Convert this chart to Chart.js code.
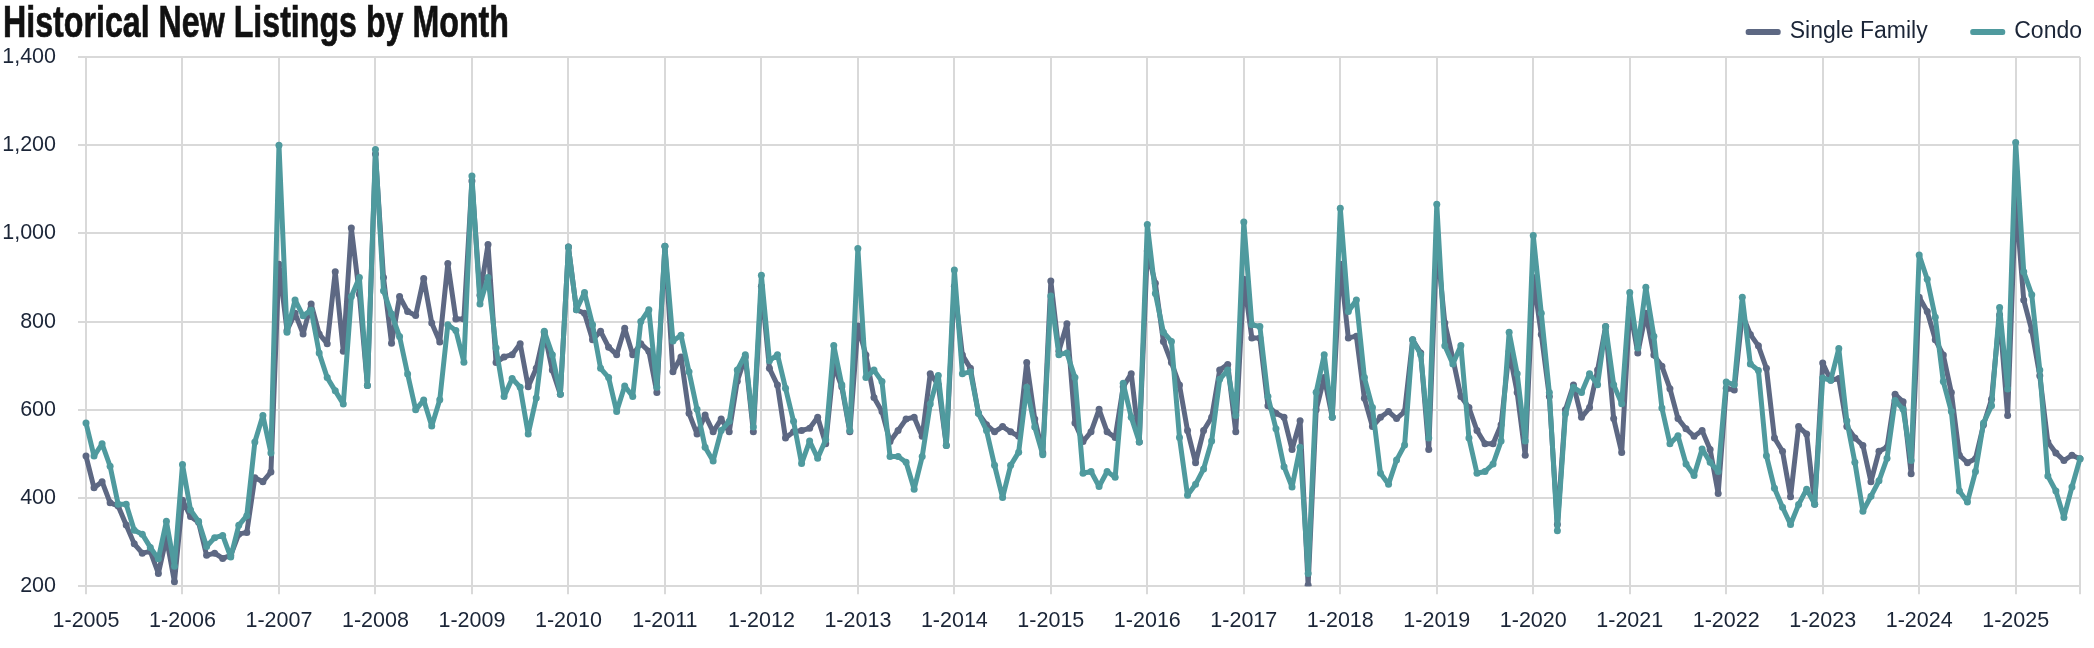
<!DOCTYPE html>
<html>
<head>
<meta charset="utf-8">
<script src="https://cdn.jsdelivr.net/npm/chart.js@4.4.1/dist/chart.umd.min.js"></script>
<style>
  html, body { margin: 0; padding: 0; background: #fff; }
  #wrap { position: relative; width: 2094px; height: 648px; }
  #title {
    position: absolute; left: 3px; top: -1px;
    font: bold 45px "Liberation Sans", Arial, sans-serif;
    line-height: 45px; color: #111; white-space: nowrap;
    -webkit-text-stroke: 0.7px #111;
    transform: scaleX(0.715); transform-origin: 0 0;
  }
  canvas { position: absolute; left: 0; top: 0; }
</style>
</head>
<body>
<div id="wrap">
  <canvas id="chart" width="2094" height="648"></canvas>
  <div id="title">Historical New Listings by Month</div>
</div>
<script>
// monthly new listings, Jan 2005 .. Sep 2025 (one row per year)
const startYear = 2005;

const singleFamily = [
  495, 423, 437, 389, 382, 339, 296, 275, 279, 229, 310, 210,   // 2005
  395, 358, 345, 270, 275, 263, 270, 318, 322, 446, 437, 459,   // 2006
  930, 780, 819, 772, 840, 772, 750, 913, 733, 1012, 862, 655,  // 2007
  1180, 900, 751, 857, 823, 814, 898, 797, 754, 932, 806, 806,  // 2008
  1119, 860, 975, 707, 720, 725, 750, 652, 694, 776, 690, 635,  // 2009
  969, 827, 819, 759, 778, 742, 725, 785, 725, 750, 733, 639,   // 2010
  971, 686, 720, 592, 545, 588, 550, 579, 550, 665, 720, 550,   // 2011
  880, 694, 656, 536, 550, 553, 558, 583, 523, 702, 652, 550,   // 2012
  790, 724, 628, 596, 528, 553, 579, 583, 540, 682, 657, 519,   // 2013
  880, 724, 694, 592, 566, 550, 562, 550, 540, 707, 579, 502,   // 2014
  892, 733, 795, 570, 528, 550, 601, 550, 537, 652, 682, 527,   // 2015
  960, 887, 755, 707, 656, 553, 480, 553, 583, 690, 703, 550,   // 2016
  896, 763, 763, 609, 592, 583, 510, 575, 202, 600, 673, 583,   // 2017
  930, 763, 767, 626, 562, 583, 596, 580, 596, 759, 729, 510,   // 2018
  980, 797, 716, 630, 605, 553, 523, 523, 566, 733, 639, 497,   // 2019
  900, 771, 630, 340, 600, 656, 583, 605, 690, 789, 580, 503,   // 2020
  830, 729, 819, 724, 699, 648, 580, 557, 540, 553, 510, 410,   // 2021
  649, 645, 816, 771, 745, 694, 536, 506, 403, 562, 545, 386,   // 2022
  706, 667, 671, 562, 536, 519, 437, 506, 515, 635, 618, 455,   // 2023
  855, 823, 759, 724, 639, 497, 480, 489, 566, 624, 815, 587,   // 2024
  1080, 849, 780, 677, 527, 502, 485, 497, 489                  // 2025
];

const condo = [
  570, 495, 523, 472, 386, 386, 327, 318, 288, 262, 347, 245,   // 2005
  476, 373, 347, 290, 310, 315, 266, 338, 360, 527, 587, 502,   // 2006
  1200, 776, 849, 813, 826, 729, 673, 643, 613, 857, 900, 655,  // 2007
  1190, 870, 817, 766, 681, 600, 622, 563, 623, 793, 780, 708,  // 2008
  1130, 840, 900, 740, 630, 671, 651, 545, 627, 778, 725, 635,  // 2009
  969, 827, 866, 793, 694, 673, 596, 654, 630, 800, 827, 651,   // 2010
  971, 756, 769, 686, 601, 515, 484, 553, 574, 690, 725, 561,   // 2011
  905, 711, 725, 649, 574, 478, 529, 490, 532, 746, 657, 553,   // 2012
  966, 673, 690, 664, 494, 494, 481, 420, 494, 613, 678, 519,   // 2013
  917, 682, 686, 592, 553, 474, 401, 474, 504, 651, 561, 498,   // 2014
  858, 725, 729, 673, 456, 460, 426, 460, 447, 660, 583, 527,   // 2015
  1020, 864, 776, 755, 537, 406, 431, 466, 529, 669, 690, 587,  // 2016
  1026, 793, 789, 630, 557, 471, 425, 515, 229, 640, 725, 583,  // 2017
  1057, 823, 849, 673, 605, 456, 431, 486, 520, 759, 725, 536,  // 2018
  1066, 745, 704, 746, 536, 456, 460, 477, 529, 776, 682, 529,  // 2019
  995, 819, 639, 326, 591, 651, 639, 682, 657, 789, 657, 614,   // 2020
  866, 740, 878, 767, 604, 523, 541, 477, 451, 511, 481, 460,   // 2021
  663, 657, 855, 704, 689, 496, 422, 379, 340, 385, 420, 386,   // 2022
  672, 667, 739, 575, 481, 370, 404, 439, 490, 621, 601, 485,   // 2023
  951, 896, 810, 664, 596, 416, 391, 460, 570, 609, 832, 647,   // 2024
  1206, 913, 861, 690, 450, 416, 356, 425, 489                  // 2025
];

const yTicks = [200, 400, 600, 800, 1000, 1200, 1400];

// "M-YYYY" category labels, one per month
const months = singleFamily.map((v, i) => `${(i % 12) + 1}-${startYear + Math.floor(i / 12)}`);

const gridColor = "#d9d9d9";
const textColor = "#1b2537";
const tickFont = { family: "'Liberation Sans', Arial, sans-serif", size: 21.5 };

// put the legend on the title row, flush with the plot's right edge
const legendShift = {
  id: "legendShift",
  afterLayout(chart) {
    const lg = chart.legend;
    lg.left += 47;
    lg.right += 47;
    lg.top -= 38.5; // bottom stays, so the clip box still holds the labels
  }
};

new Chart(document.getElementById("chart"), {
  type: "line",
  data: {
    labels: months,
    datasets: [
      {
        label: "Single Family",
        data: singleFamily,
        borderColor: "#5d6883",
        backgroundColor: "#5d6883",
        borderWidth: 5,
        pointRadius: 3.5,
        pointBorderWidth: 0,
        order: 1
      },
      {
        label: "Condo",
        data: condo,
        borderColor: "#4f9a9e",
        backgroundColor: "#4f9a9e",
        borderWidth: 5,
        pointRadius: 3.5,
        pointBorderWidth: 0,
        order: 0
      }
    ]
  },
  options: {
    responsive: false,
    animation: false,
    layout: { padding: { top: 14, left: 0, right: 14, bottom: 0 } },
    elements: { line: { tension: 0, borderJoinStyle: "round" } },
    plugins: {
      title: { display: false },
      tooltip: { enabled: false },
      legend: {
        position: "top",
        align: "end",
        maxHeight: 43,
        labels: {
          boxWidth: 30,
          boxHeight: 1,
          padding: 45,
          color: textColor,
          font: { family: "'Liberation Sans', Arial, sans-serif", size: 23 },
          sort: (a, b) => a.datasetIndex - b.datasetIndex
        }
      }
    },
    scales: {
      x: {
        grid: { color: gridColor, lineWidth: 2, tickLength: 8 },
        border: { display: false },
        ticks: {
          autoSkip: false,
          maxRotation: 0,
          padding: 14,
          color: textColor,
          font: tickFont,
          callback: function (value, index) {
            const label = months[index];
            if (label.startsWith("1-")) return label;
            if (index === months.length - 1) return "";
            return null;
          }
        }
      },
      y: {
        min: yTicks[0],
        max: yTicks[yTicks.length - 1],
        afterBuildTicks: (axis) => { axis.ticks = yTicks.map((v) => ({ value: v })); },
        afterFit: (axis) => { axis.width = 86; },
        grid: { color: gridColor, lineWidth: 2, tickLength: 8 },
        border: { display: false },
        ticks: {
          padding: 22,
          color: textColor,
          font: tickFont,
          callback: (v) => v.toLocaleString("en-US")
        }
      }
    }
  },
  plugins: [legendShift]
});
</script>
</body>
</html>
